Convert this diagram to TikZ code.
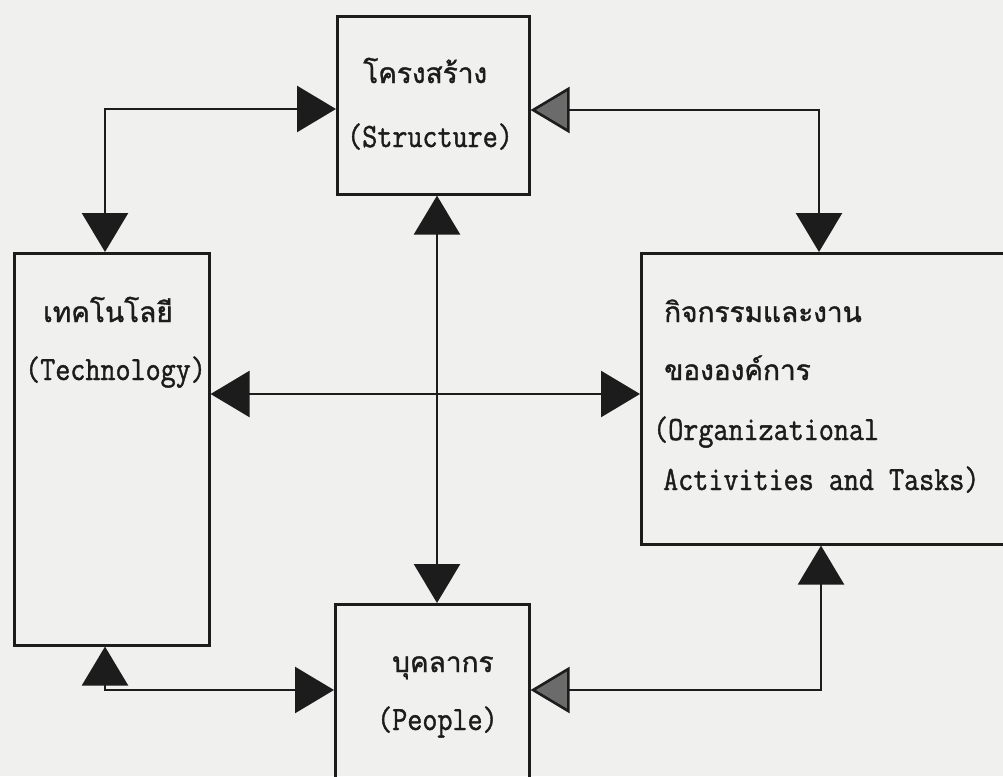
\documentclass[tikz,border=0pt]{standalone}
\usepackage{fontspec}
\usetikzlibrary{arrows.meta}
\newfontfamily\twfont[FakeStretch=0.86,FakeBold=1.2]{Latin Modern Mono}
\newfontfamily\thaifont[Script=Thai,FakeBold=1.2]{Loma}
\definecolor{paper}{RGB}{240,240,238}
\definecolor{ink}{RGB}{28,28,28}
\begin{document}
\begin{tikzpicture}[x=1pt,y=-1pt,
  box/.style={draw=ink, line width=2.6pt, inner sep=0pt, anchor=north west},
  link/.style={draw=ink, line width=2.6pt},
  dk/.tip={Triangle[length=39pt,width=46pt,color=ink]},
  lt/.tip={Triangle[length=39pt,width=46pt,color=ink,fill=ink!65]},
  lat/.style={anchor=base west, inner sep=0pt, text=ink,
    font=\twfont\fontsize{34pt}{40pt}\selectfont},
  thai/.style={anchor=base west, inner sep=0pt, text=ink,
    font=\thaifont\fontsize{28pt}{34pt}\selectfont},
]
\fill[paper] (0,0) rectangle (1003,776);
\useasboundingbox (0,0) rectangle (1003,776);

% the four boxes
\node[box, minimum width=192pt, minimum height=178pt] (S) at (336,15) {};
\node[box, minimum width=195pt, minimum height=392pt] (T) at (13,252) {};
\node[box, minimum width=380pt, minimum height=291pt] (O) at (640,252) {};
\node[box, minimum width=194pt, minimum height=220pt] (P) at (334,603) {};

% labels
\node[thai] (s1) at (363,83) {โครงสร้าง};
\node[lat]  (s2) at (347,147) {(Structure)};
\node[thai] (t1) at (43,322) {เทคโนโลยี};
\node[lat]  (t2) at (25,380) {(Technology)};
\node[thai] (o1) at (664,322) {กิจกรรมและงาน};
\node[thai] (o2) at (664,380) {ขององค์การ};
\node[lat]  (o3) at (653,440) {(Organizational};
\node[lat]  (o4) at (663,490) {Activities and Tasks)};
\node[thai] (p1) at (392,672) {บุคลากร};
\node[lat]  (p2) at (377,730) {(People)};

% routing points
\coordinate (ul) at (105,109);
\coordinate (ur) at (819,110);
\coordinate (ll) at (105,690);
\coordinate (lr) at (821,690);
\coordinate (vx) at (437,0);
\coordinate (hy) at (0,394);

% connectors
\draw[link, dk-dk] (S.west |- ul) -| (T.north -| ul);
\draw[link, lt-dk] (S.east |- ur) -| (O.north -| ur);
\draw[link, dk-dk] (S.south -| vx) -- (P.north -| vx);
\draw[link, dk-dk] (T.east |- hy) -- (O.west |- hy);
\draw[link, dk-dk] (T.south -| ll) |- (P.west |- ll);
\draw[link, lt-dk] (P.east |- lr) -| (O.south -| lr);
\end{tikzpicture}
\end{document}
